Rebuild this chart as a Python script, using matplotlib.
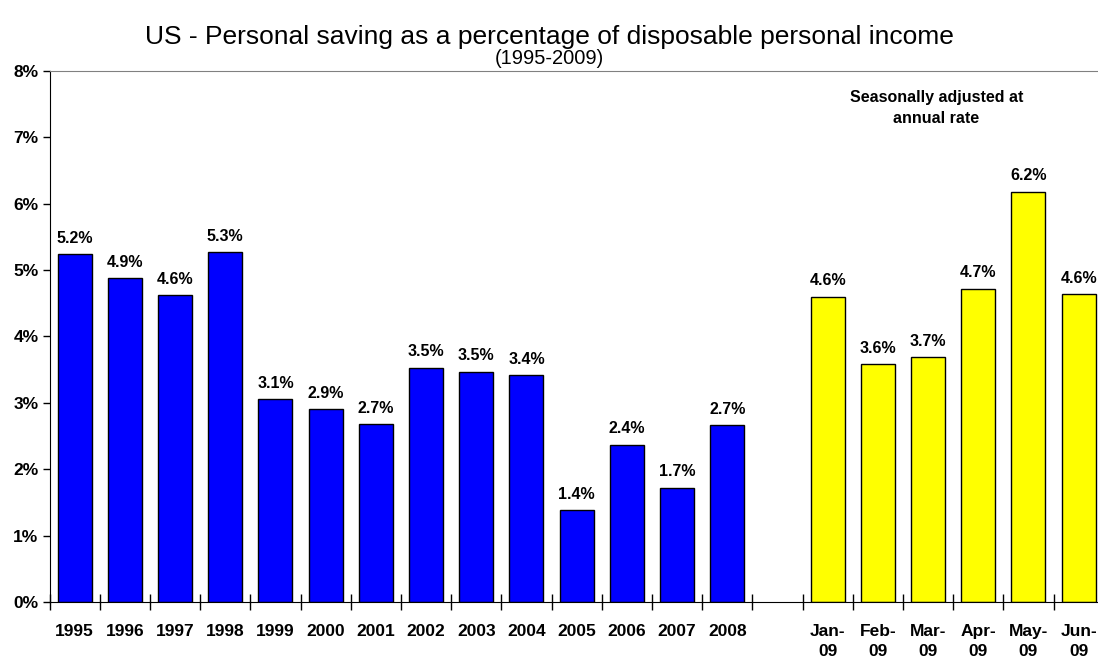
import numpy as np
import matplotlib.pyplot as plt

# --- data ---
years = ['1995', '1996', '1997', '1998', '1999', '2000', '2001', '2002',
         '2003', '2004', '2005', '2006', '2007', '2008']
year_vals = [5.24, 4.88, 4.62, 5.27, 3.06, 2.91, 2.68, 3.53,
             3.47, 3.42, 1.38, 2.37, 1.72, 2.66]
months = ['Jan-\n09', 'Feb-\n09', 'Mar-\n09', 'Apr-\n09', 'May-\n09', 'Jun-\n09']
month_vals = [4.60, 3.58, 3.69, 4.72, 6.18, 4.64]

plt.rcParams['font.family'] = ['Liberation Sans', 'DejaVu Sans']

fig = plt.figure(figsize=(10.98, 6.57), dpi=100)
ax = fig.add_axes([0.0451, 0.0837, 0.9601, 0.8083])

x_years = np.arange(len(years))
x_months = np.arange(len(months)) + len(years) + 1
W = 0.68

ax.bar(x_years, year_vals, width=W, color='#0000FF', edgecolor='black', linewidth=1)
ax.bar(x_months, month_vals, width=W, color='#FFFF00', edgecolor='black', linewidth=1)

# value labels above the bars
for xs, vs in ((x_years, year_vals), (x_months, month_vals)):
    for x, v in zip(xs, vs):
        ax.annotate(f'{v:.1f}%', (x, v), xytext=(0, 6), textcoords='offset points',
                    ha='center', va='bottom', fontsize=11.5, fontweight='bold')

ax.set_xlim(-0.5, 20.5)
ax.set_ylim(0, 8)
ax.set_yticks(range(0, 9))
ax.set_yticklabels([f'{i}%' for i in range(0, 9)], fontsize=12.5, fontweight='bold')
ax.tick_params(axis='y', direction='out', length=5, width=1, pad=3)

ax.set_xticks(list(x_years) + list(x_months))
ax.set_xticklabels(years + months, fontsize=12.5, fontweight='bold', linespacing=1.4)
ax.tick_params(axis='x', which='major', length=0, pad=16)
ax.set_xticks(np.arange(-0.5, 21.0, 1.0), minor=True)
ax.tick_params(axis='x', which='minor', direction='inout', length=11, width=1)

ax.spines['right'].set_visible(False)
ax.spines['top'].set_color('#808080')

ax.text(17.17, 7.44, 'Seasonally adjusted at\nannual rate', ha='center', va='center',
        fontsize=11.5, fontweight='bold', linespacing=1.55)

fig.text(0.5, 0.944, 'US - Personal saving as a percentage of disposable personal income',
         ha='center', va='center', fontsize=19)
fig.text(0.5, 0.911, '(1995-2009)', ha='center', va='center', fontsize=14.5)

fig.savefig('out.png', dpi=100)
